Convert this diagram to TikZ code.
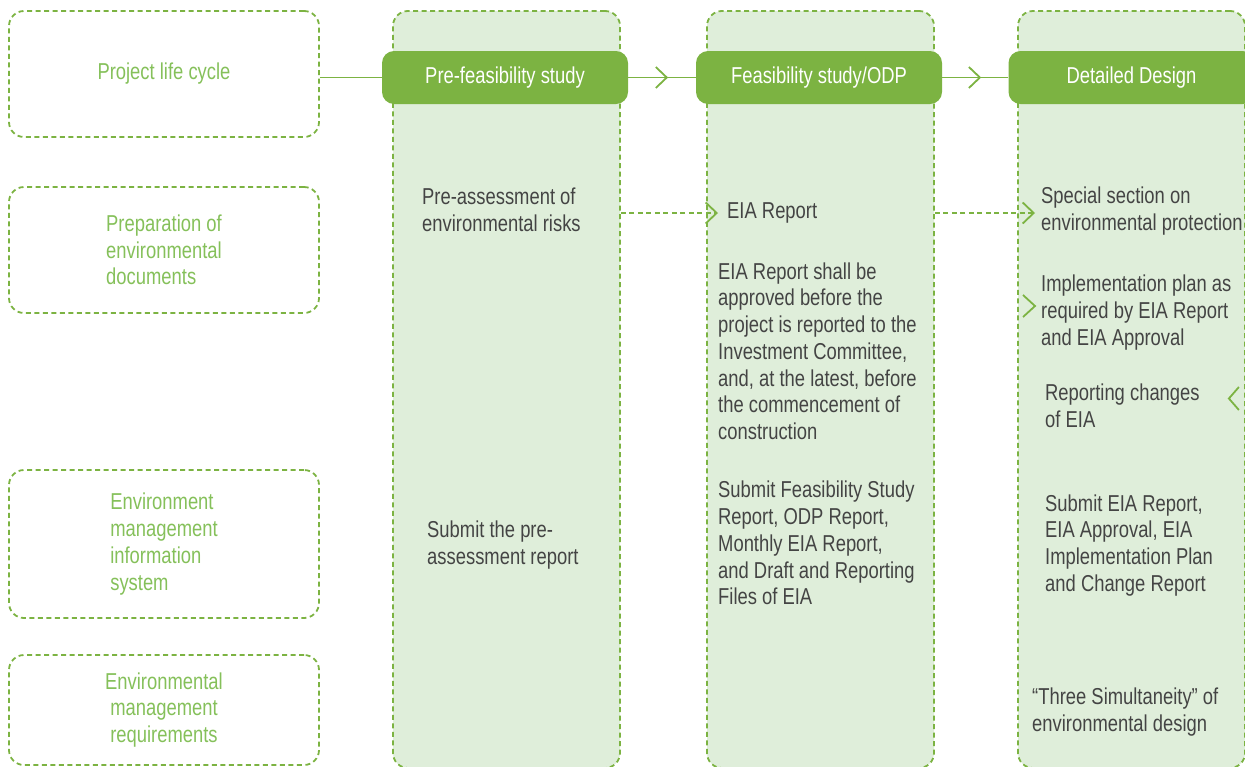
\documentclass[tikz,border=0pt]{standalone}
\usepackage{fontspec}
\setmainfont{Liberation Sans}[FakeStretch=0.8]
\usetikzlibrary{arrows.meta,calc}
\definecolor{leaf}{HTML}{7CB342}
\definecolor{mint}{HTML}{DFEEDA}
\definecolor{sage}{HTML}{85C05A}
\definecolor{ink}{HTML}{444444}

\begin{document}
\begin{tikzpicture}[x=1pt,y=-1pt]
	\tikzstyle{every node}+=[inner sep=0pt, font=\fontsize{23}{26.7}\selectfont]
	\tikzstyle{dashline}=[draw=leaf, line width=1.8pt, dash pattern=on 5pt off 3.5pt]
	\tikzstyle{stage}=[dashline, rounded corners=15pt, minimum width=310pt, text=sage, align=left]
	\tikzstyle{column}=[dashline, fill=mint, rounded corners=15pt, minimum width=227pt, minimum height=757pt]
	\tikzstyle{phase}=[fill=leaf, text=white, rounded corners=12pt, minimum width=246pt, minimum height=53pt]
	\tikzstyle{note}=[text=ink, align=left, anchor=west, execute at begin node=\strut, execute at end node=\strut]
	\tikzstyle{chev}=[-{Straight Barb[length=11pt,width=21pt]}]
	\useasboundingbox (0,0) rectangle (1245,766);
	\node[stage, minimum height=126pt] (lc) at (164,74) {Project life cycle};
	\node[stage, minimum height=126pt] (prep) at (164,250) {Preparation of\\environmental\\documents};
	\node[stage, minimum height=148pt] (emis) at (164,544) {Environment\\management\\information\\system};
	\node[stage, minimum height=110pt, align=center] (emreq) at (164,710) {Environmental\\management\\requirements};
	\node[column] (col1) at (506.5,389.5) {};
	\node[column] (col2) at (820.5,389.5) {};
	\node[column] (col3) at (1131.5,389.5) {};
	\node[phase] (h1) at (505,77.5) {Pre-feasibility study};
	\node[phase] (h2) at (819,77.5) {Feasibility study/ODP};
	\node[phase] (h3) at (1131.5,77.5) {Detailed Design};
	\draw[leaf, line width=1.8pt] (h1.west -| lc.east) -- (h1.west);
	\draw[leaf, line width=1.8pt] (h1.east) -- (h2.west);
	\draw[leaf, line width=1.8pt, chev] (h1.east) -- ($(h1.east)!0.59!(h2.west)$);
	\draw[leaf, line width=1.8pt] (h2.east) -- (h3.west);
	\draw[leaf, line width=1.8pt, chev] (h2.east) -- ($(h2.east)!0.59!(h3.west)$);
	\node[note] (pre) at (422,214) {Pre-assessment of\\environmental risks};
	\node[note] (subpre) at (427,547) {Submit the pre-\\assessment report};
	\node[note] (eia) at (727,213) {EIA Report};
	\node[note] (eiaok) at (718,355) {EIA Report shall be\\approved before the\\project is reported to the\\Investment Committee,\\and, at the latest, before\\the commencement of\\construction};
	\node[note] (subfs) at (718,547) {Submit Feasibility Study\\Report, ODP Report,\\Monthly EIA Report,\\and Draft and Reporting\\Files of EIA};
	\node[note] (spec) at (1041,213) {Special section on\\environmental protection};
	\node[note] (impl) at (1041,314) {Implementation plan as\\required by EIA Report\\and EIA Approval};
	\node[note] (rep) at (1045,410) {Reporting changes\\of EIA};
	\node[note] (subeia) at (1045,547) {Submit EIA Report,\\EIA Approval, EIA\\Implementation Plan\\and Change Report};
	\node[note] (three) at (1032,714) {“Three Simultaneity” of\\environmental design};
	\draw[dashline, chev, shorten >=9pt] (col1.east |- eia.west) -- (eia.west);
	\draw[dashline, chev, shorten >=6pt] (col2.east |- spec.west) -- (spec.west);
	\draw[leaf, line width=1.8pt] ($(impl.west)+(-18,-19)$) -- ++(12,11) -- ++(-12,11);
	\draw[leaf, line width=1.8pt] ($(col3.east |- rep.west)+(-7,-23)$) -- ++(-10,11.5) -- ++(10,11.5);
\end{tikzpicture}
\end{document}
